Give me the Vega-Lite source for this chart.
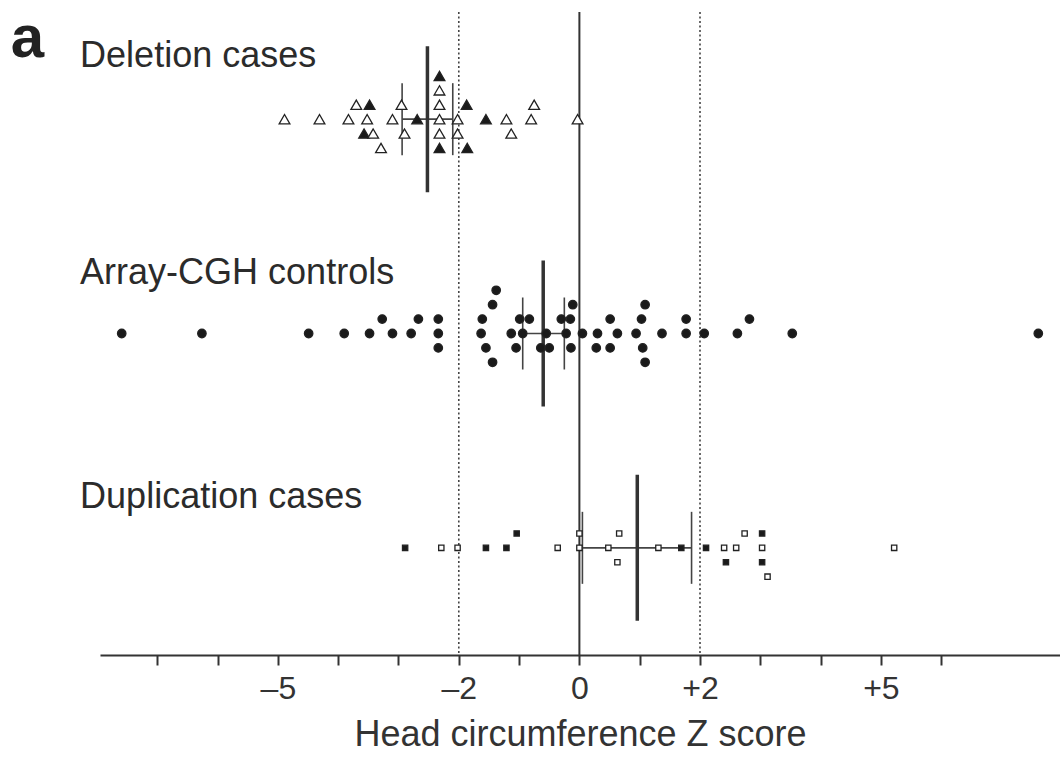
{
  "$schema": "https://vega.github.io/schema/vega-lite/v6.json",
  "width": 960,
  "height": 643,
  "autosize": {"type": "none"},
  "padding": {"left": 100, "top": 12, "right": 0, "bottom": 107},
  "background": "white",
  "config": {"view": {"stroke": null}, "font": "Liberation Sans"},
  "datasets": {
    "points": [
      {"g": "Deletion cases", "z": -4.89, "s": 0, "f": "open"},
      {"g": "Deletion cases", "z": -4.31, "s": 0, "f": "open"},
      {"g": "Deletion cases", "z": -3.83, "s": 0, "f": "open"},
      {"g": "Deletion cases", "z": -3.52, "s": 0, "f": "open"},
      {"g": "Deletion cases", "z": -3.10, "s": 0, "f": "open"},
      {"g": "Deletion cases", "z": -2.69, "s": 0, "f": "filled"},
      {"g": "Deletion cases", "z": -2.32, "s": 0, "f": "open"},
      {"g": "Deletion cases", "z": -2.02, "s": 0, "f": "open"},
      {"g": "Deletion cases", "z": -1.55, "s": 0, "f": "filled"},
      {"g": "Deletion cases", "z": -1.21, "s": 0, "f": "open"},
      {"g": "Deletion cases", "z": -0.80, "s": 0, "f": "open"},
      {"g": "Deletion cases", "z": -0.03, "s": 0, "f": "open"},
      {"g": "Deletion cases", "z": -3.70, "s": 1, "f": "open"},
      {"g": "Deletion cases", "z": -3.48, "s": 1, "f": "filled"},
      {"g": "Deletion cases", "z": -2.95, "s": 1, "f": "open"},
      {"g": "Deletion cases", "z": -2.32, "s": 1, "f": "open"},
      {"g": "Deletion cases", "z": -1.87, "s": 1, "f": "filled"},
      {"g": "Deletion cases", "z": -0.75, "s": 1, "f": "open"},
      {"g": "Deletion cases", "z": -2.32, "s": 2, "f": "open"},
      {"g": "Deletion cases", "z": -2.32, "s": 3, "f": "filled"},
      {"g": "Deletion cases", "z": -3.57, "s": -1, "f": "filled"},
      {"g": "Deletion cases", "z": -3.42, "s": -1, "f": "open"},
      {"g": "Deletion cases", "z": -2.90, "s": -1, "f": "open"},
      {"g": "Deletion cases", "z": -2.32, "s": -1, "f": "open"},
      {"g": "Deletion cases", "z": -2.02, "s": -1, "f": "open"},
      {"g": "Deletion cases", "z": -1.13, "s": -1, "f": "open"},
      {"g": "Deletion cases", "z": -3.29, "s": -2, "f": "open"},
      {"g": "Deletion cases", "z": -2.32, "s": -2, "f": "filled"},
      {"g": "Deletion cases", "z": -1.86, "s": -2, "f": "filled"},

      {"g": "Array-CGH controls", "z": -7.59, "s": 0, "f": "filled"},
      {"g": "Array-CGH controls", "z": -6.26, "s": 0, "f": "filled"},
      {"g": "Array-CGH controls", "z": -4.49, "s": 0, "f": "filled"},
      {"g": "Array-CGH controls", "z": -3.90, "s": 0, "f": "filled"},
      {"g": "Array-CGH controls", "z": -3.48, "s": 0, "f": "filled"},
      {"g": "Array-CGH controls", "z": -3.10, "s": 0, "f": "filled"},
      {"g": "Array-CGH controls", "z": -2.79, "s": 0, "f": "filled"},
      {"g": "Array-CGH controls", "z": -2.34, "s": 0, "f": "filled"},
      {"g": "Array-CGH controls", "z": -1.63, "s": 0, "f": "filled"},
      {"g": "Array-CGH controls", "z": -1.13, "s": 0, "f": "filled"},
      {"g": "Array-CGH controls", "z": -0.94, "s": 0, "f": "filled"},
      {"g": "Array-CGH controls", "z": -0.55, "s": 0, "f": "filled"},
      {"g": "Array-CGH controls", "z": -0.22, "s": 0, "f": "filled"},
      {"g": "Array-CGH controls", "z": 0.05, "s": 0, "f": "filled"},
      {"g": "Array-CGH controls", "z": 0.30, "s": 0, "f": "filled"},
      {"g": "Array-CGH controls", "z": 0.63, "s": 0, "f": "filled"},
      {"g": "Array-CGH controls", "z": 0.94, "s": 0, "f": "filled"},
      {"g": "Array-CGH controls", "z": 1.37, "s": 0, "f": "filled"},
      {"g": "Array-CGH controls", "z": 1.77, "s": 0, "f": "filled"},
      {"g": "Array-CGH controls", "z": 2.07, "s": 0, "f": "filled"},
      {"g": "Array-CGH controls", "z": 2.62, "s": 0, "f": "filled"},
      {"g": "Array-CGH controls", "z": 3.53, "s": 0, "f": "filled"},
      {"g": "Array-CGH controls", "z": 7.61, "s": 0, "f": "filled"},
      {"g": "Array-CGH controls", "z": -3.27, "s": 1, "f": "filled"},
      {"g": "Array-CGH controls", "z": -2.67, "s": 1, "f": "filled"},
      {"g": "Array-CGH controls", "z": -2.34, "s": 1, "f": "filled"},
      {"g": "Array-CGH controls", "z": -1.61, "s": 1, "f": "filled"},
      {"g": "Array-CGH controls", "z": -0.99, "s": 1, "f": "filled"},
      {"g": "Array-CGH controls", "z": -0.83, "s": 1, "f": "filled"},
      {"g": "Array-CGH controls", "z": -0.30, "s": 1, "f": "filled"},
      {"g": "Array-CGH controls", "z": -0.15, "s": 1, "f": "filled"},
      {"g": "Array-CGH controls", "z": 0.51, "s": 1, "f": "filled"},
      {"g": "Array-CGH controls", "z": 1.03, "s": 1, "f": "filled"},
      {"g": "Array-CGH controls", "z": 1.77, "s": 1, "f": "filled"},
      {"g": "Array-CGH controls", "z": 2.82, "s": 1, "f": "filled"},
      {"g": "Array-CGH controls", "z": -1.44, "s": 2, "f": "filled"},
      {"g": "Array-CGH controls", "z": -0.11, "s": 2, "f": "filled"},
      {"g": "Array-CGH controls", "z": 1.09, "s": 2, "f": "filled"},
      {"g": "Array-CGH controls", "z": -1.38, "s": 3, "f": "filled"},
      {"g": "Array-CGH controls", "z": -2.34, "s": -1, "f": "filled"},
      {"g": "Array-CGH controls", "z": -1.55, "s": -1, "f": "filled"},
      {"g": "Array-CGH controls", "z": -1.05, "s": -1, "f": "filled"},
      {"g": "Array-CGH controls", "z": -0.64, "s": -1, "f": "filled"},
      {"g": "Array-CGH controls", "z": -0.50, "s": -1, "f": "filled"},
      {"g": "Array-CGH controls", "z": -0.14, "s": -1, "f": "filled"},
      {"g": "Array-CGH controls", "z": 0.28, "s": -1, "f": "filled"},
      {"g": "Array-CGH controls", "z": 0.51, "s": -1, "f": "filled"},
      {"g": "Array-CGH controls", "z": 1.05, "s": -1, "f": "filled"},
      {"g": "Array-CGH controls", "z": -1.44, "s": -2, "f": "filled"},
      {"g": "Array-CGH controls", "z": 1.09, "s": -2, "f": "filled"},

      {"g": "Duplication cases", "z": -2.89, "s": 0, "f": "filled"},
      {"g": "Duplication cases", "z": -2.29, "s": 0, "f": "open"},
      {"g": "Duplication cases", "z": -2.02, "s": 0, "f": "open"},
      {"g": "Duplication cases", "z": -1.55, "s": 0, "f": "filled"},
      {"g": "Duplication cases", "z": -1.21, "s": 0, "f": "filled"},
      {"g": "Duplication cases", "z": -0.36, "s": 0, "f": "open"},
      {"g": "Duplication cases", "z": 0.00, "s": 0, "f": "open"},
      {"g": "Duplication cases", "z": 0.48, "s": 0, "f": "open"},
      {"g": "Duplication cases", "z": 1.31, "s": 0, "f": "open"},
      {"g": "Duplication cases", "z": 1.69, "s": 0, "f": "filled"},
      {"g": "Duplication cases", "z": 2.10, "s": 0, "f": "filled"},
      {"g": "Duplication cases", "z": 2.40, "s": 0, "f": "open"},
      {"g": "Duplication cases", "z": 2.60, "s": 0, "f": "open"},
      {"g": "Duplication cases", "z": 3.03, "s": 0, "f": "open"},
      {"g": "Duplication cases", "z": 5.22, "s": 0, "f": "open"},
      {"g": "Duplication cases", "z": -1.04, "s": 1, "f": "filled"},
      {"g": "Duplication cases", "z": 0.00, "s": 1, "f": "open"},
      {"g": "Duplication cases", "z": 0.66, "s": 1, "f": "open"},
      {"g": "Duplication cases", "z": 2.74, "s": 1, "f": "open"},
      {"g": "Duplication cases", "z": 3.03, "s": 1, "f": "filled"},
      {"g": "Duplication cases", "z": 0.63, "s": -1, "f": "open"},
      {"g": "Duplication cases", "z": 2.43, "s": -1, "f": "filled"},
      {"g": "Duplication cases", "z": 3.03, "s": -1, "f": "filled"},
      {"g": "Duplication cases", "z": 3.12, "s": -2, "f": "open"}
    ],
    "summary": [
      {"g": "Deletion cases", "mean": -2.52, "lo": -2.94, "hi": -2.10},
      {"g": "Array-CGH controls", "mean": -0.60, "lo": -0.94, "hi": -0.25},
      {"g": "Duplication cases", "mean": 0.96, "lo": 0.05, "hi": 1.86}
    ],
    "refs": [
      {"z": -2, "kind": "dotted"},
      {"z": 2, "kind": "dotted"},
      {"z": 0, "kind": "solid"}
    ],
    "labels": [
      {"g": "Deletion cases", "text": "Deletion cases"},
      {"g": "Array-CGH controls", "text": "Array-CGH controls"},
      {"g": "Duplication cases", "text": "Duplication cases"},
      {"g": "Deletion cases", "text": "a"}
    ]
  },
  "layer": [
    {
      "data": {"name": "refs"},
      "transform": [{"filter": "datum.kind == 'dotted'"}],
      "mark": {"type": "rule", "color": "#444", "strokeWidth": 1.6, "strokeDash": [2, 2.5]},
      "encoding": {
        "x": {"field": "z", "type": "quantitative", "scale": {"domain": [-7.95, 7.97], "nice": false, "zero": false},
          "axis": {"values": [-7, -6, -5, -4, -3, -2, -1, 0, 1, 2, 3, 4, 5, 6],
            "labelExpr": "datum.value == -5 ? '–5' : datum.value == -2 ? '–2' : datum.value == 0 ? '0' : datum.value == 2 ? '+2' : datum.value == 5 ? '+5' : ''",
            "title": "Head circumference Z score", "grid": false,
            "domainColor": "#333", "domainWidth": 2, "tickColor": "#333", "tickWidth": 2, "tickSize": 10,
            "labelFont": "Liberation Sans", "labelFontSize": 32, "labelColor": "#333", "labelPadding": 8, "labelOverlap": false, "labelFlush": false,
            "titleFont": "Liberation Sans", "titleFontSize": 36, "titleFontWeight": "normal", "titleColor": "#333", "titlePadding": 13}}
      }
    },
    {
      "data": {"name": "refs"},
      "transform": [{"filter": "datum.kind == 'solid'"}],
      "mark": {"type": "rule", "color": "#333", "strokeWidth": 2},
      "encoding": {"x": {"field": "z", "type": "quantitative"}}
    },
    {
      "data": {"name": "summary"},
      "mark": {"type": "tick", "color": "#444", "size": 72, "thickness": 1.6, "opacity": 1},
      "encoding": {
        "x": {"field": "lo", "type": "quantitative"},
        "y": {"field": "g", "type": "nominal", "scale": {"type": "band", "domain": ["Deletion cases", "Array-CGH controls", "Duplication cases"], "paddingInner": 0, "paddingOuter": 0}, "axis": null}
      }
    },
    {
      "data": {"name": "summary"},
      "mark": {"type": "tick", "color": "#444", "size": 72, "thickness": 1.6, "opacity": 1},
      "encoding": {
        "x": {"field": "hi", "type": "quantitative"},
        "y": {"field": "g", "type": "nominal"}
      }
    },
    {
      "data": {"name": "summary"},
      "mark": {"type": "rule", "color": "#444", "strokeWidth": 1.6},
      "encoding": {
        "x": {"field": "lo", "type": "quantitative"},
        "x2": {"field": "hi"},
        "y": {"field": "g", "type": "nominal"}
      }
    },
    {
      "data": {"name": "summary"},
      "mark": {"type": "tick", "color": "#333", "size": 146, "thickness": 3.5, "opacity": 1},
      "encoding": {
        "x": {"field": "mean", "type": "quantitative"},
        "y": {"field": "g", "type": "nominal"}
      }
    },
    {
      "data": {"name": "points"},
      "mark": {"type": "point", "strokeWidth": 1.3, "stroke": "#222", "opacity": 1},
      "encoding": {
        "x": {"field": "z", "type": "quantitative"},
        "y": {"field": "g", "type": "nominal"},
        "yOffset": {"field": "s", "type": "quantitative", "scale": {"domain": [7.44, -7.44], "nice": false, "zero": false}},
        "shape": {"field": "g", "type": "nominal", "scale": {"domain": ["Deletion cases", "Array-CGH controls", "Duplication cases"], "range": ["triangle-up", "circle", "square"]}, "legend": null},
        "size": {"field": "g", "type": "nominal", "scale": {"domain": ["Deletion cases", "Array-CGH controls", "Duplication cases"], "range": [115, 28, 92]}, "legend": null},
        "fill": {"field": "f", "type": "nominal", "scale": {"domain": ["filled", "open"], "range": ["#1a1a1a", "#ffffff"]}, "legend": null}
      }
    },
    {
      "data": {"name": "labels"},
      "transform": [{"filter": "datum.text == 'Deletion cases'"}],
      "mark": {"type": "text", "align": "left", "baseline": "alphabetic", "fontSize": 36, "font": "Liberation Sans", "color": "#2b2b2b", "dy": -52},
      "encoding": {"x": {"datum": -8.28, "type": "quantitative"}, "y": {"field": "g", "type": "nominal"}, "text": {"field": "text"}}
    },
    {
      "data": {"name": "labels"},
      "transform": [{"filter": "datum.text == 'Array-CGH controls'"}],
      "mark": {"type": "text", "align": "left", "baseline": "alphabetic", "fontSize": 36, "font": "Liberation Sans", "color": "#2b2b2b", "dy": -50},
      "encoding": {"x": {"datum": -8.28, "type": "quantitative"}, "y": {"field": "g", "type": "nominal"}, "text": {"field": "text"}}
    },
    {
      "data": {"name": "labels"},
      "transform": [{"filter": "datum.text == 'Duplication cases'"}],
      "mark": {"type": "text", "align": "left", "baseline": "alphabetic", "fontSize": 36, "font": "Liberation Sans", "color": "#2b2b2b", "dy": -40},
      "encoding": {"x": {"datum": -8.28, "type": "quantitative"}, "y": {"field": "g", "type": "nominal"}, "text": {"field": "text"}}
    },
    {
      "data": {"name": "labels"},
      "transform": [{"filter": "datum.text == 'a'"}],
      "mark": {"type": "text", "align": "left", "baseline": "alphabetic", "fontSize": 60, "fontWeight": "bold", "font": "Liberation Sans", "color": "#222", "dy": -62},
      "encoding": {"x": {"datum": -9.43, "type": "quantitative"}, "y": {"field": "g", "type": "nominal"}, "text": {"field": "text"}}
    }
  ]
}
